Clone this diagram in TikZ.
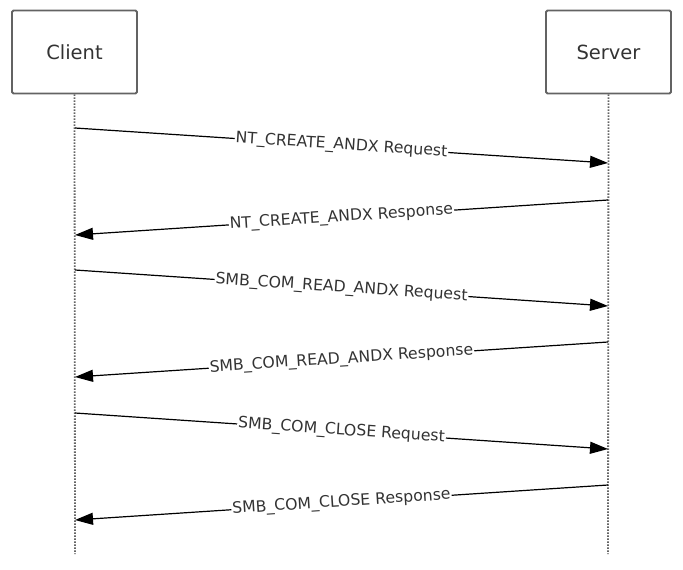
\documentclass[tikz,border=0pt]{standalone}
\usepackage{fontspec}
\setmainfont{DejaVu Sans}
\usetikzlibrary{arrows.meta}
\definecolor{boxgray}{HTML}{636363}
\definecolor{txtgray}{HTML}{333333}
\tikzset{actor/.style = {draw=boxgray, line width=1.9, rounded corners=1.5, minimum width=125, minimum height=83, text=txtgray, font=\fontsize{19.5}{20}\selectfont},
  life/.style = {boxgray, line width=1.8, dash pattern=on 1.5 off 1.5},
  msg/.style = {line width=1.2, -{Triangle[length=18, width=12]}},
  lbl/.style = {midway, sloped, fill=white, inner sep=1, text=txtgray, font=\fontsize{15.7}{16}\selectfont}}

\begin{document}
\begin{tikzpicture}[x=1pt, y=-1pt]
    \useasboundingbox (0, 0) rectangle (683, 570);

    \node [actor] (client) at (74.5, 52) {Client};
    \node [actor] (server) at (608.5, 52) {Server};
    \coordinate (cend) at (75, 554);
    \coordinate (send) at (608, 554);
    \draw [life] (client.south) -- (cend);
    \draw [life] (server.south) -- (send);

    \coordinate (c1) at (75, 128);   \coordinate (s1) at (608, 163);
    \coordinate (s2) at (608, 200);  \coordinate (c2) at (75, 235);
    \coordinate (c3) at (75, 270);   \coordinate (s3) at (608, 306);
    \coordinate (s4) at (608, 342);  \coordinate (c4) at (75, 377);
    \coordinate (c5) at (75, 413);   \coordinate (s5) at (608, 449);
    \coordinate (s6) at (608, 485);  \coordinate (c6) at (75, 520);

    \draw [msg] (c1) -- (s1) node [lbl] {NT\_CREATE\_ANDX Request};
    \draw [msg] (s2) -- (c2) node [lbl] {NT\_CREATE\_ANDX Response};
    \draw [msg] (c3) -- (s3) node [lbl] {SMB\_COM\_READ\_ANDX Request};
    \draw [msg] (s4) -- (c4) node [lbl] {SMB\_COM\_READ\_ANDX Response};
    \draw [msg] (c5) -- (s5) node [lbl] {SMB\_COM\_CLOSE Request};
    \draw [msg] (s6) -- (c6) node [lbl] {SMB\_COM\_CLOSE Response};
  \end{tikzpicture}
\end{document}
